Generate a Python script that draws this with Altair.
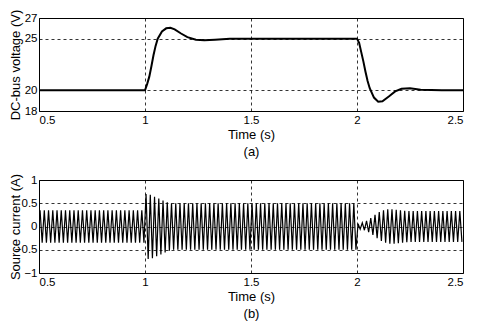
import altair as alt
import pandas as pd

# ---- DC-bus voltage (panel a): knots ----
t_v = [0.5, 1.0, 1.01, 1.02, 1.03, 1.04, 1.05, 1.06, 1.08, 1.10, 1.12, 1.14, 1.17,
       1.20, 1.24, 1.28, 1.33, 1.40, 1.6, 1.8, 2.0, 2.01, 2.02, 2.03, 2.04, 2.05,
       2.06, 2.08, 2.10, 2.12, 2.15, 2.18, 2.21, 2.25, 2.30, 2.4, 2.5]
v_dc = [20, 20, 20.6, 21.3, 22.3, 23.4, 24.3, 25.0, 25.7, 26.0, 26.05, 25.9, 25.5,
        25.15, 24.9, 24.85, 24.9, 25.0, 25.0, 25.0, 25.0, 24.6, 23.7, 22.8, 21.8, 20.9,
        20.2, 19.3, 18.9, 18.95, 19.4, 19.9, 20.15, 20.2, 20.05, 20.0, 20.0]

# ---- Source current (panel b): peak amplitude of each 50 Hz cycle (0.5 s .. 2.5 s) ----
amp = ([0.35] * 25
       + [0.70, 0.68, 0.64, 0.60, 0.56, 0.52]
       + [0.50] * 44
       + [0.06, 0.08, 0.12, 0.18, 0.25, 0.31, 0.35, 0.37, 0.37, 0.36, 0.35, 0.34]
       + [0.33] * 13)
cycle = 0.02
t0 = 0.5

x_ticks = [0.5, 1, 1.5, 2, 2.5]
v_ticks = [18, 20, 25, 27]
i_ticks = [-1, -0.5, 0, 0.5, 1]

rows = []
for k, a in enumerate(amp):
    ts = t0 + k * cycle
    rows.append({"t": ts + cycle / 4, "i": a})
    rows.append({"t": ts + 3 * cycle / 4, "i": -a})
df_i = pd.DataFrame(rows)
df_v = pd.DataFrame({"t": t_v, "v": v_dc})

FONT = "Liberation Sans, Arial, sans-serif"

W, H = 424, 93


def xaxis(label):
    return alt.X("t:Q", scale=alt.Scale(domain=[0.5, 2.5], nice=False),
                 axis=alt.Axis(values=x_ticks, format="~g", title=["Time (s)", label],
                               titleLineHeight=17, titlePadding=3, labelPadding=3))


def yaxis(title, ticks, fmt):
    return alt.Axis(values=ticks, format=fmt, title=title, titleX=-17, titleBaseline="bottom")


top = alt.Chart(df_v).mark_line(color="black", strokeWidth=2).encode(
    x=xaxis("(a)"),
    y=alt.Y("v:Q", scale=alt.Scale(domain=[18, 27], nice=False, zero=False),
            axis=yaxis("DC-bus voltage (V)", v_ticks, "~g")),
).properties(width=W, height=H)

bottom = alt.Chart(df_i).mark_line(color="black", strokeWidth=1.2).encode(
    x=xaxis("(b)"),
    y=alt.Y("i:Q", scale=alt.Scale(domain=[-1, 1], nice=False),
            axis=yaxis("Source current (A)", i_ticks, "~g")),
).properties(width=W, height=H)

chart = alt.vconcat(top, bottom, spacing=69, bounds="flush").properties(
    padding={"left": 0, "top": 0, "right": 0, "bottom": 0}
).configure_view(stroke="black", strokeWidth=1).configure_axis(
    labelFont=FONT, labelFontSize=11.5, labelColor="black",
    titleFont=FONT, titleFontSize=13, titleFontWeight="normal", titleColor="black",
    ticks=False, domain=False, labelPadding=2,
    gridColor="black", gridDash=[3, 3], gridOpacity=1, gridWidth=0.8,
)

chart.save("out.html", embed_options={"renderer": "svg", "actions": False})
